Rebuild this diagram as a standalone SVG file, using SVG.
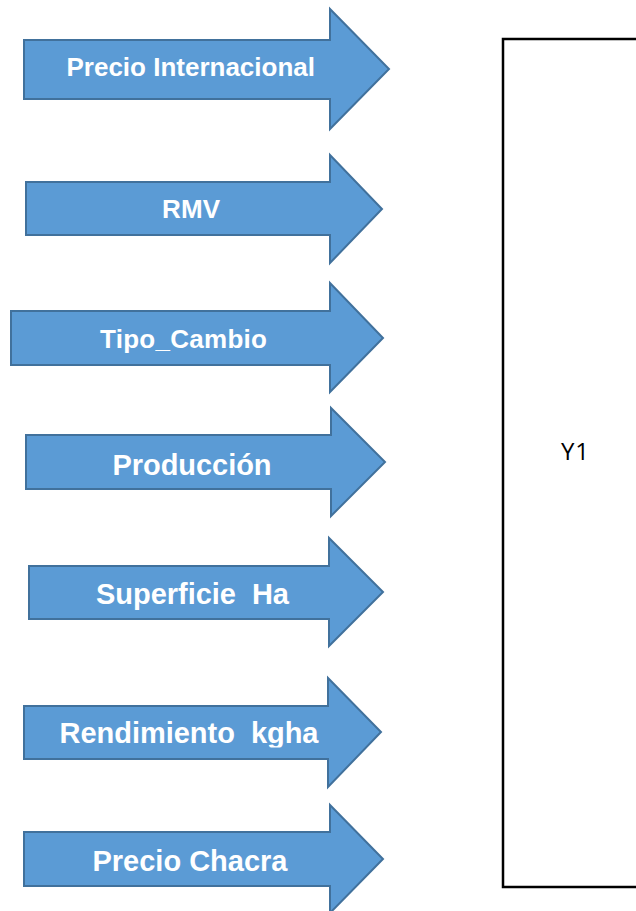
<svg xmlns="http://www.w3.org/2000/svg" width="636" height="911" viewBox="0 0 636 911">
<style>
.arr{fill:#5B9BD5;stroke:#41719C;stroke-width:2;stroke-linejoin:miter}
.lbl{font-family:"Liberation Sans",Arial,sans-serif;font-weight:bold;fill:#FFFFFF;white-space:pre}
.box{fill:#FFFFFF;stroke:#000000;stroke-width:2.5}
.y{font-family:"Open Sans","Liberation Sans",sans-serif;font-size:24px;fill:#000000}
</style>
<defs>
<clipPath id="clip6"><rect x="0" y="690" width="400" height="57.5"/></clipPath>
</defs>
<rect width="636" height="911" fill="#FFFFFF"/>
<g id="Y1">
<rect class="box" x="503" y="39" width="160" height="848"/>
<text class="y" x="561" y="460" textLength="28">Y1</text>
</g>
<g id="precio_internacional">
<polygon class="arr" points="24,40 330,40 330,9 389,69 330,129 330,99 24,99"/>
<text class="lbl" x="66.5" y="76" font-size="26" textLength="248.5">Precio Internacional</text>
</g>
<g id="rmv">
<polygon class="arr" points="26,182 330,182 330,155 382,209 330,263 330,235 26,235"/>
<text class="lbl" x="162" y="218" font-size="26" textLength="58">RMV</text>
</g>
<g id="tipo_cambio">
<polygon class="arr" points="11,311 330,311 330,283 383,338 330,392 330,365 11,365"/>
<text class="lbl" x="100" y="348" font-size="26" textLength="167">Tipo_Cambio</text>
</g>
<g id="produccion">
<polygon class="arr" points="26,435 331,435 331,408 385,462 331,516 331,489 26,489"/>
<text class="lbl" x="112.5" y="475" font-size="29" textLength="159">Producción</text>
</g>
<g id="superficie_ha">
<polygon class="arr" points="29,566 329,566 329,538 383,592 329,646 329,619 29,619"/>
<text class="lbl" x="96" y="604" font-size="29" textLength="193">Superficie  Ha</text>
</g>
<g id="rendimiento_kgha">
<polygon class="arr" points="24,706 328,706 328,678 381,732 328,787 328,759 24,759"/>
<text class="lbl" x="59.5" y="743" font-size="29" textLength="259" clip-path="url(#clip6)">Rendimiento  kgha</text>
</g>
<g id="precio_chacra">
<polygon class="arr" points="24,832 330,832 330,805 383,859 330,913 330,886 24,886"/>
<text class="lbl" x="92.5" y="871" font-size="29" textLength="195">Precio Chacra</text>
</g>
<g id="connectors"/>
</svg>
